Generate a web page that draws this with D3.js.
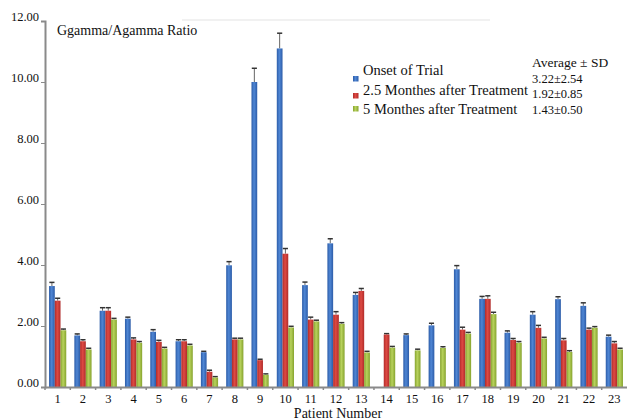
<!DOCTYPE html>
<html>
<head>
<meta charset="utf-8">
<script src="https://cdn.jsdelivr.net/npm/d3@7"></script>
<style>
  body { margin: 0; background: #fff; }
  svg text { font-family: "Liberation Serif", "Times New Roman", "DejaVu Serif", serif !important; fill: #111; }
</style>
</head>
<body>
<div id="chart"></div>
<script>
// Chart data
var patients = ["1","2","3","4","5","6","7","8","9","10","11","12","13","14","15","16","17","18","19","20","21","22","23"];
var seriesNames = ["Onset of Trial", "2.5 Monthes after Treatment", "5 Monthes after Treatment"];
var averages = ["3.22\u00b12.54", "1.92\u00b10.85", "1.43\u00b10.50"];

var onset = [3.31, 1.69, 2.50, 2.24, 1.81, 1.50, 1.14, 3.99, 10.0, 11.1, 3.34, 4.71, 3.02, 0, 1.70, 2.02, 3.86, 2.89, 1.78, 2.37, 2.88, 2.66, 1.65];
var months25 = [2.83, 1.50, 2.50, 1.56, 1.48, 1.50, 0.50, 1.56, 0.88, 4.37, 2.21, 2.37, 3.15, 1.72, 0, 0, 1.88, 2.89, 1.54, 1.94, 1.53, 1.88, 1.43];
var months5 = [1.86, 1.23, 2.21, 1.45, 1.26, 1.36, 0.31, 1.56, 0.40, 1.95, 2.15, 2.07, 1.13, 1.29, 1.20, 1.28, 1.75, 2.39, 1.45, 1.59, 1.15, 1.94, 1.23];

var onsetErr = [0.12, 0.05, 0.10, 0.05, 0.07, 0.05, 0.03, 0.12, 0.45, 0.50, 0.10, 0.15, 0.08, 0, 0.04, 0.07, 0.12, 0.08, 0.06, 0.10, 0.08, 0.10, 0.05];
var months25Err = [0.08, 0.05, 0.10, 0.05, 0.05, 0.05, 0.05, 0.04, 0.03, 0.17, 0.08, 0.10, 0.08, 0.03, 0, 0, 0.08, 0.10, 0.05, 0.08, 0.06, 0.05, 0.06];
var months5Err = [0.04, 0.04, 0.04, 0.04, 0.04, 0.04, 0.03, 0.04, 0.03, 0.04, 0.04, 0.04, 0.04, 0.04, 0.04, 0.04, 0.04, 0.06, 0.04, 0.04, 0.04, 0.04, 0.04];

var yTicks = [0, 2, 4, 6, 8, 10, 12];

var values = [onset, months25, months5];
var errors = [onsetErr, months25Err, months5Err];

// colours: edge, centre
var colors = [["#2c5ca8", "#4f86d4"], ["#b02b2a", "#de4a43"], ["#86a32e", "#b8d25c"]];
var serif = "'Liberation Serif', 'Times New Roman', 'DejaVu Serif', serif";

var W = 627, H = 420;
var margin = { top: 21, right: 0, bottom: 33, left: 45 };
var width = W - margin.left - margin.right;
var height = 387 - margin.top;

var svg = d3.select("#chart").append("svg")
  .attr("width", W)
  .attr("height", H)
  .attr("font-family", serif);

// gradients for the shaded bars
var defs = svg.append("defs");
colors.forEach(function(c, i) {
  var g = defs.append("linearGradient")
    .attr("id", "grad" + i)
    .attr("x1", "0%").attr("x2", "100%").attr("y1", "0%").attr("y2", "0%");
  g.append("stop").attr("offset", "0%").attr("stop-color", c[0]);
  g.append("stop").attr("offset", "45%").attr("stop-color", c[1]);
  g.append("stop").attr("offset", "100%").attr("stop-color", c[0]);
});

var chart = svg.append("g")
  .attr("transform", "translate(" + margin.left + "," + margin.top + ")");

var x0 = d3.scaleBand()
  .domain(patients)
  .range([0, width])
  .paddingInner(0.32)
  .paddingOuter(0.16);

var x1 = d3.scaleBand()
  .domain([0, 1, 2])
  .range([0, x0.bandwidth()]);

var y = d3.scaleLinear()
  .domain([0, 12])
  .range([height, 0]);

// faint top border
chart.append("line")
  .attr("x1", 137).attr("x2", 445)
  .attr("y1", -1).attr("y2", -1)
  .style("stroke", "#ececec")
  .style("stroke-width", 1.5);

// bars
var groups = chart.selectAll(".group")
  .data(patients)
  .enter().append("g")
  .attr("class", "group")
  .attr("transform", function(d) { return "translate(" + x0(d) + ",0)"; });

var cells = groups.selectAll(".cell")
  .data(function(d, i) {
    return [0, 1, 2].map(function(s) {
      return { s: s, v: values[s][i], e: errors[s][i] };
    }).filter(function(c) { return c.v > 0; });
  })
  .enter().append("g")
  .attr("class", "cell");

// error bars (upper only)
cells.append("line")
  .attr("x1", function(d) { return x1(d.s) + x1.bandwidth() / 2; })
  .attr("x2", function(d) { return x1(d.s) + x1.bandwidth() / 2; })
  .attr("y1", function(d) { return y(d.v); })
  .attr("y2", function(d) { return y(d.v + d.e); })
  .style("stroke", "#666")
  .style("stroke-width", 1);

cells.append("line")
  .attr("x1", function(d) { return x1(d.s) + 0.3; })
  .attr("x2", function(d) { return x1(d.s) + x1.bandwidth() - 0.3; })
  .attr("y1", function(d) { return y(d.v + d.e); })
  .attr("y2", function(d) { return y(d.v + d.e); })
  .style("stroke", "#333")
  .style("stroke-width", 1.5);

cells.append("rect")
  .attr("x", function(d) { return x1(d.s); })
  .attr("y", function(d) { return y(d.v); })
  .attr("width", x1.bandwidth())
  .attr("height", function(d) { return y(0) - y(d.v); })
  .style("fill", function(d) { return "url(#grad" + d.s + ")"; });

// y axis
var yAxis = chart.append("g")
  .call(d3.axisLeft(y).tickValues(yTicks).tickFormat(d3.format(".2f")).tickSize(4).tickPadding(2))
  .attr("font-family", serif);
yAxis.select(".domain").style("stroke", "#8a8a8a").style("stroke-width", 2);
yAxis.selectAll(".tick line").style("stroke", "#8a8a8a");
yAxis.selectAll("text")
  .style("font-family", serif)
  .style("font-size", "12.5px")
  .attr("dy", "-0.05em");

// x axis
var xAxis = chart.append("g")
  .attr("transform", "translate(0," + height + ")")
  .call(d3.axisBottom(x0).tickSize(0).tickPadding(7))
  .attr("font-family", serif);
xAxis.select(".domain").style("stroke", "#8a8a8a").style("stroke-width", 2);
xAxis.selectAll("text").style("font-family", serif).style("font-size", "12.5px");

// small ticks between the patients
chart.selectAll(".sep")
  .data(patients)
  .enter().append("line")
  .attr("class", "sep")
  .attr("x1", function(d) { return x0(d) - x0.step() * 0.16; })
  .attr("x2", function(d) { return x0(d) - x0.step() * 0.16; })
  .attr("y1", height)
  .attr("y2", height + 3)
  .style("stroke", "#8a8a8a")
  .style("stroke-width", 1.5);

// titles
svg.append("text")
  .attr("x", 57).attr("y", 35)
  .style("font-family", serif)
  .style("font-size", "14px")
  .text("Ggamma/Agamma Ratio");

svg.append("text")
  .attr("x", 338).attr("y", 418)
  .style("text-anchor", "middle")
  .style("font-family", serif)
  .style("font-size", "14px")
  .text("Patient Number");

// legend
var legendBase = [75, 95, 114];
var legendBox = [76, 93, 106];
var legend = svg.append("g");
seriesNames.forEach(function(name, i) {
  legend.append("rect")
    .attr("x", 353).attr("y", legendBox[i])
    .attr("width", 5.5).attr("height", 5.5)
    .style("fill", "url(#grad" + i + ")");
  legend.append("text")
    .attr("x", 363).attr("y", legendBase[i])
    .style("font-family", serif)
    .style("font-size", "14.5px")
    .text(name);
});

svg.append("text")
  .attr("x", 532).attr("y", 67)
  .style("font-family", serif)
  .style("font-size", "13.5px")
  .text("Average \u00b1 SD");

var avgBase = [83, 98, 114];
averages.forEach(function(a, i) {
  svg.append("text")
    .attr("x", 532).attr("y", avgBase[i])
    .style("font-family", serif)
    .style("font-size", "12.5px")
    .text(a);
});
</script>
</body>
</html>
